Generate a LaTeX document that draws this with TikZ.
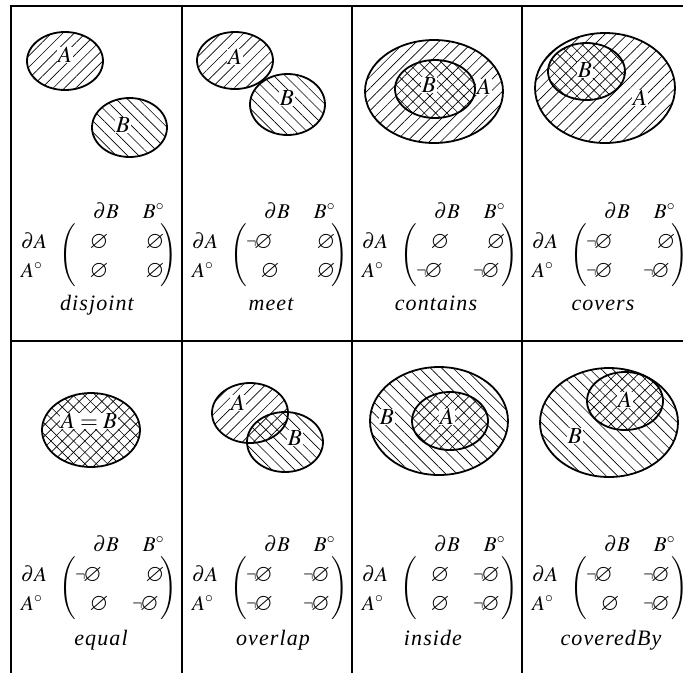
\documentclass[tikz,border=0pt]{standalone}
\usepackage{mathptmx}
\usepackage{amssymb}
\usepackage{graphicx}
\usepackage{fontspec}
\newfontfamily\relfont[LetterSpace=5]{Liberation Serif}
\usetikzlibrary{patterns.meta}
\newcommand{\es}{\mathord{\scalebox{1.15}{$\varnothing$}}}
\newcommand{\nes}{\mathord{\scalebox{0.72}[1]{$\neg$}}\mkern-2mu\es}
\tikzset{
  gridline/.style={line width=2pt},
  region/.style={line width=1.8pt},
  hatchA/.style={pattern={Lines[angle=45,distance=8pt,line width=0.65pt]}},
  hatchB/.style={pattern={Lines[angle=-45,distance=8pt,line width=0.65pt]}},
  lbl/.style={inner sep=0.6pt, fill=white, font=\fontsize{23}{27}\selectfont},
  mtx/.style={inner sep=0pt, anchor=base, font=\fontsize{21}{25}\selectfont},
  relname/.style={inner sep=0pt, anchor=base, font=\relfont\itshape\fontsize{22}{26}\selectfont},
  paren/.style={inner sep=0pt, font=\fontsize{21}{25}\selectfont},
}
% #1 name, #2 x of a lone empty set, #3 x of right end of a negated one, #4 baseline, #5 kind
\newcommand{\mentry}[5]{%
  \ifnum#5=1
    \node[mtx,anchor=base east] (#1) at ({#3},{#4}) {$\nes$};
  \else
    \node[mtx] (#1) at ({#2},{#4}) {$\es$};
  \fi}
\newcommand{\relmatrix}[7]{%
  \node[mtx,anchor=base west] (#1dA) at ({#2+10},{#3+248}) {$\partial A$};
  \node[mtx,anchor=base west] (#1iA) at ({#2+10},{#3+277}) {$A^\circ$};
  \node[mtx] (#1dB) at ({#2+95},{#3+218}) {$\partial B$};
  \node[mtx] (#1iB) at ({#2+142.5},{#3+218}) {$B^\circ$};
  \node[paren] (#1lp) at ({#2+57},{#3+255}) {$\left(\vcenter{\hbox{\rule{0pt}{56pt}}}\right.$};
  \node[paren] (#1rp) at ({#2+157.5},{#3+255}) {$\left.\vcenter{\hbox{\rule{0pt}{56pt}}}\right)$};
  \mentry{#1e11}{#2+88}{#2+91}{#3+248}{#4}
  \mentry{#1e12}{#2+144}{#2+148}{#3+248}{#5}
  \mentry{#1e21}{#2+88}{#2+91}{#3+277}{#6}
  \mentry{#1e22}{#2+144}{#2+148}{#3+277}{#7}
}
\begin{document}
\begin{tikzpicture}[x=1pt,y=-1pt]
\useasboundingbox (0,0) rectangle (683,673);

% ---------- disjoint
\fill[hatchA] (65,61) ellipse [x radius=38pt,y radius=29pt];
\fill[hatchB] (129.5,127.5) ellipse [x radius=37.5pt,y radius=29.5pt];
\draw[region] (65,61) ellipse [x radius=38pt,y radius=29pt];
\draw[region] (129.5,127.5) ellipse [x radius=37.5pt,y radius=29.5pt];
\node[lbl] (disA) at (65,55) {$A$};
\node[lbl] (disB) at (123,125) {$B$};
\relmatrix{dis}{11}{0}{0}{0}{0}{0}
\node[relname] (disN) at (97,310) {disjoint};

% ---------- meet
\fill[hatchA] (235,60.5) ellipse [x radius=38pt,y radius=28.5pt];
\fill[hatchB] (287.5,104.5) ellipse [x radius=37.5pt,y radius=30.5pt];
\draw[region] (235,60.5) ellipse [x radius=38pt,y radius=28.5pt];
\draw[region] (287.5,104.5) ellipse [x radius=37.5pt,y radius=30.5pt];
\node[lbl] (meeA) at (235,57) {$A$};
\node[lbl] (meeB) at (287,98) {$B$};
\relmatrix{mee}{182}{0}{1}{0}{0}{0}
\node[relname] (meeN) at (271,310) {meet};

% ---------- contains
\fill[hatchA] (434,91.5) ellipse [x radius=69pt,y radius=51.5pt];
\fill[hatchB] (435,89) ellipse [x radius=40pt,y radius=29pt];
\draw[region] (434,91.5) ellipse [x radius=69pt,y radius=51.5pt];
\draw[region] (435,89) ellipse [x radius=40pt,y radius=29pt];
\node[lbl] (conB) at (429,85) {$B$};
\node[lbl] (conA) at (484,87) {$A$};
\relmatrix{con}{352}{0}{0}{0}{1}{1}
\node[relname] (conN) at (436,310) {contains};

% ---------- covers
\fill[hatchA] (605,88) ellipse [x radius=70pt,y radius=55pt];
\fill[hatchB] (586.5,71.5) ellipse [x radius=38.5pt,y radius=28.5pt];
\draw[region] (605,88) ellipse [x radius=70pt,y radius=55pt];
\draw[region] (586.5,71.5) ellipse [x radius=38.5pt,y radius=28.5pt];
\node[lbl] (covB) at (585,70) {$B$};
\node[lbl] (covA) at (640,98) {$A$};
\relmatrix{cov}{522}{0}{1}{0}{1}{1}
\node[relname] (covN) at (603,310) {covers};

% ---------- equal
\fill[hatchA] (91,430) ellipse [x radius=49pt,y radius=37pt];
\fill[hatchB] (91,430) ellipse [x radius=49pt,y radius=37pt];
\draw[region] (91,430) ellipse [x radius=49pt,y radius=37pt];
\node[lbl] (equAB) at (89,421) {$A = B$};
\relmatrix{equ}{11}{333}{1}{0}{0}{1}
\node[relname] (equN) at (101,645) {equal};

% ---------- overlap
\fill[hatchA] (250,413) ellipse [x radius=38pt,y radius=30pt];
\fill[hatchB] (285,442) ellipse [x radius=38pt,y radius=30pt];
\draw[region] (250,413) ellipse [x radius=38pt,y radius=30pt];
\draw[region] (285,442) ellipse [x radius=38pt,y radius=30pt];
\node[lbl] (ovlA) at (238,403) {$A$};
\node[lbl] (ovlB) at (295,438) {$B$};
\relmatrix{ovl}{182}{333}{1}{1}{1}{1}
\node[relname] (ovlN) at (273,645) {overlap};

% ---------- inside
\fill[hatchB] (439,421) ellipse [x radius=69pt,y radius=54pt];
\fill[hatchA] (450,421) ellipse [x radius=38pt,y radius=29pt];
\draw[region] (439,421) ellipse [x radius=69pt,y radius=54pt];
\draw[region] (450,421) ellipse [x radius=38pt,y radius=29pt];
\node[lbl] (insB) at (387,417) {$B$};
\node[lbl] (insA) at (447,417) {$A$};
\relmatrix{ins}{352}{333}{0}{1}{0}{1}
\node[relname] (insN) at (433,645) {inside};

% ---------- coveredBy
\fill[hatchB] (609,422.5) ellipse [x radius=69pt,y radius=54.5pt];
\fill[hatchA] (625,401) ellipse [x radius=38pt,y radius=29pt];
\draw[region] (609,422.5) ellipse [x radius=69pt,y radius=54.5pt];
\draw[region] (625,401) ellipse [x radius=38pt,y radius=29pt];
\node[lbl] (cbyA) at (625,400) {$A$};
\node[lbl] (cbyB) at (575,436) {$B$};
\relmatrix{cby}{522}{333}{1}{1}{0}{1}
\node[relname] (cbyN) at (611,645) {coveredBy};

% ---------- grid
\draw[gridline] (10,6) -- (683,6);
\draw[gridline] (10,341) -- (683,341);
\foreach \gx in {11,182,352,522} \draw[gridline] (\gx,5) -- (\gx,673);
\end{tikzpicture}
\end{document}
